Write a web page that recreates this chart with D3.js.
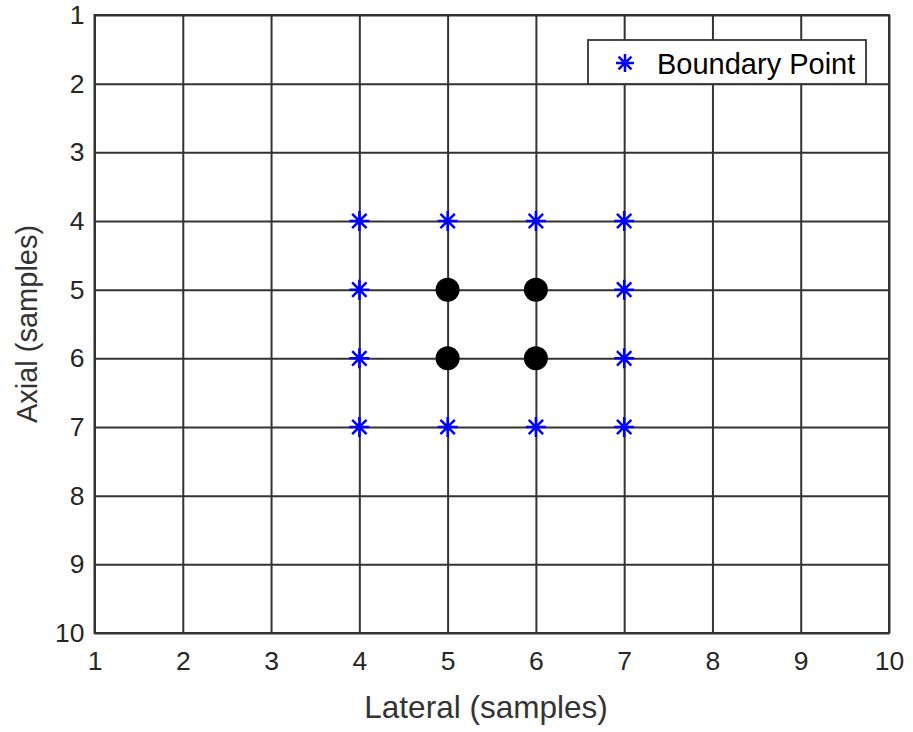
<!DOCTYPE html>
<html><head><meta charset="utf-8">
<script src="https://cdn.jsdelivr.net/npm/d3@7"></script>
<style>body{margin:0;background:#fff}svg{display:block}</style>
</head><body>
<svg id="c" width="913" height="732"></svg>
<script>
const xTicks = [1,2,3,4,5,6,7,8,9,10];
const yTicks = [1,2,3,4,5,6,7,8,9,10];
const boundaryX = [4,5,6,7,4,7,4,7,4,5,6,7];
const boundaryY = [4,4,4,4,5,5,6,6,7,7,7,7];
const innerX = [5,6,5,6];
const innerY = [5,5,6,6];
const legendLabel = "Boundary Point";
const xLabel = "Lateral (samples)";
const yLabel = "Axial (samples)";

const svg = d3.select("#c");
const L = 94.5, R = 889, T = 15, B = 633;
const x = d3.scaleLinear().domain([1,10]).range([L,R]);
const y = d3.scaleLinear().domain([1,10]).range([T,B]);
const font = "'Liberation Sans', Arial, Helvetica, sans-serif";
const grid = "#333";

const gx = svg.append("g").attr("transform",`translate(0,${B})`)
  .call(d3.axisBottom(x).tickValues(xTicks).tickFormat(d3.format("d")).tickSizeInner(-(B-T)).tickSizeOuter(0).tickPadding(12));
gx.select(".domain").remove();
gx.selectAll(".tick line").attr("stroke",grid).attr("stroke-width",2);
gx.selectAll(".tick text").attr("font-family",font).attr("font-size",26.5).attr("fill","#262626").attr("dy","0.95em");

const gy = svg.append("g").attr("transform",`translate(${L},0)`)
  .call(d3.axisLeft(y).tickValues(yTicks).tickFormat(d3.format("d")).tickSizeInner(-(R-L)).tickSizeOuter(0).tickPadding(10));
gy.select(".domain").remove();
gy.selectAll(".tick line").attr("stroke",grid).attr("stroke-width",2);
gy.selectAll(".tick text").attr("font-family",font).attr("font-size",26.5).attr("fill","#262626");

svg.append("rect").attr("x",L).attr("y",T).attr("width",R-L).attr("height",B-T)
  .attr("fill","none").attr("stroke",grid).attr("stroke-width",2);

function star(g, cx, cy, r, w){
  const d = r*0.72;
  const p = `M${cx-r},${cy}L${cx+r},${cy}M${cx},${cy-r}L${cx},${cy+r}M${cx-d},${cy-d}L${cx+d},${cy+d}M${cx-d},${cy+d}L${cx+d},${cy-d}`;
  g.append("path").attr("d",p).attr("stroke","#0000ff").attr("stroke-width",w).attr("fill","none");
}

const pts = svg.append("g");
boundaryX.forEach((bx,i)=> star(pts, x(bx), y(boundaryY[i]), 10, 2.5));
pts.selectAll("circle").data(innerX.map((v,i)=>[v,innerY[i]])).join("circle")
  .attr("cx",d=>x(d[0])).attr("cy",d=>y(d[1])).attr("r",12).attr("fill","#000");

// legend
const lg = svg.append("g");
lg.append("rect").attr("x",588).attr("y",40).attr("width",278).attr("height",44)
  .attr("fill","#fff").attr("stroke",grid).attr("stroke-width",1.8);
star(lg, 625, 63, 9, 2.5);
lg.append("text").attr("x",657).attr("y",74).attr("font-family",font).attr("font-size",29).attr("fill","#000").text(legendLabel);

svg.append("text").attr("x",486).attr("y",718).attr("text-anchor","middle")
  .attr("font-family",font).attr("font-size",31.5).attr("fill","#333").text(xLabel);
svg.append("text").attr("transform",`translate(37,${(T+B)/2}) rotate(-90)`).attr("text-anchor","middle")
  .attr("font-family",font).attr("font-size",29).attr("fill","#333").text(yLabel);
</script>
</body></html>
